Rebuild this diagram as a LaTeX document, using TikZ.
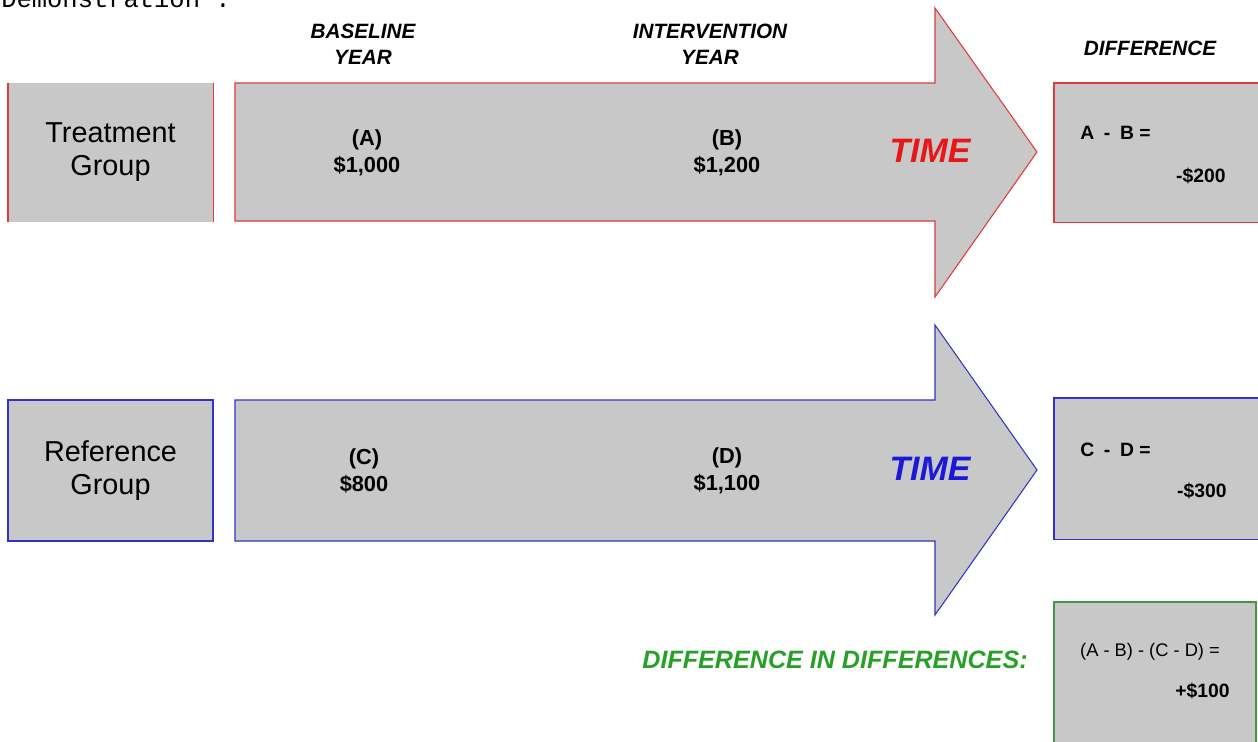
\documentclass[tikz,border=0pt]{standalone}
\usepackage{fontspec}
\setmainfont{Liberation Sans}
\newfontfamily\democode{Liberation Mono}
\definecolor{PanelGray}{RGB}{200, 200, 200}
\definecolor{TreatRed}{RGB}{222, 58, 58}
\definecolor{TimeRed}{RGB}{232, 22, 22}
\definecolor{RefBlue}{RGB}{50, 50, 195}
\definecolor{TimeBlue}{RGB}{25, 25, 215}
\definecolor{DidGreen}{RGB}{40, 160, 40}
\definecolor{DidLine}{RGB}{70, 150, 70}

\begin{document}
\begin{tikzpicture}[x=0.02cm, y=-0.02cm,
    panel/.style={fill=PanelGray, inner sep=0pt, minimum width=4.1cm, minimum height=2.78cm},
    grouplabel/.style={align=center, font=\fontsize{16.4}{18.7}\selectfont},
    colhead/.style={align=center, inner sep=0pt, font=\fontsize{11.8}{14.7}\selectfont\bfseries\itshape},
    amount/.style={align=center, inner sep=0pt, font=\fontsize{12.4}{15.3}\selectfont\bfseries},
    difftext/.style={inner sep=0pt, font=\fontsize{11}{13}\selectfont\bfseries},
    timelabel/.style={inner sep=0pt, font=\fontsize{19.3}{22}\selectfont\bfseries\itshape}]

    \useasboundingbox (0,0) rectangle (1258,741);
    \clip (0,0) rectangle (1258,741);

    % Title, cut off at the top
    \node[anchor=base west, inner sep=0pt, font=\democode\fontsize{14.5}{16}\selectfont] (demo) at (1,7) {Demonstration :};

    % Column headers
    \node[colhead] (basehead) at (363,44) {BASELINE\\YEAR};
    \node[colhead] (interhead) at (710,44) {INTERVENTION\\YEAR};
    \node[colhead] (diffhead) at (1150,48) {DIFFERENCE};

    % Treatment group row
    \node[panel, grouplabel] (treat) at (110.5,152.5) {Treatment\\Group};
    \draw[TreatRed, line width=1.2pt] (treat.north west) -- (treat.south west);
    \draw[TreatRed, line width=0.6pt] (treat.north east) -- (treat.south east);

    \filldraw[fill=PanelGray, draw=TreatRed, line width=0.6pt]
        (235,83) -- (935,83) -- (935,8) -- (1037,152) -- (935,297) -- (935,221) -- (235,221) -- cycle;
    \node[amount] (valA) at (367,153) {(A)\\\$1,000};
    \node[amount] (valB) at (727,153) {(B)\\\$1,200};
    \node[timelabel, TimeRed] (time1) at (930,151) {TIME};

    \node[panel, minimum width=4.2cm, anchor=north west] (diff1) at (1054,83) {};
    \draw[TreatRed, line width=0.6pt] (diff1.south east) -- (diff1.south west) -- (diff1.north west) -- (diff1.north east);
    \node[difftext, anchor=west] (ab) at (1080,133) {A\enspace-\enspace B =};
    \node[difftext, anchor=east] (abval) at (1226,176) {-\$200};

    % Reference group row
    \node[panel, grouplabel, minimum height=2.82cm, draw=RefBlue, line width=0.8pt] (ref) at (110.5,470.5) {Reference\\Group};

    \filldraw[fill=PanelGray, draw=RefBlue, line width=0.6pt]
        (235,400) -- (935,400) -- (935,325) -- (1037,470) -- (935,615) -- (935,541) -- (235,541) -- cycle;
    \node[amount] (valC) at (364,471) {(C)\\\$800};
    \node[amount] (valD) at (727,471) {(D)\\\$1,100};
    \node[timelabel, TimeBlue] (time2) at (930,469) {TIME};

    \node[panel, minimum width=4.2cm, minimum height=2.82cm, anchor=north west] (diff2) at (1054,398) {};
    \draw[RefBlue, line width=0.8pt] (diff2.south east) -- (diff2.south west) -- (diff2.north west) -- (diff2.north east);
    \node[difftext, anchor=west] (cd) at (1080,450) {C\enspace-\enspace D =};
    \node[difftext, anchor=east] (cdval) at (1227,491) {-\$300};

    % Difference in differences
    \node[inner sep=0pt, anchor=east, text=DidGreen, font=\fontsize{14.3}{16}\selectfont\bfseries\itshape] (didlabel) at (1028,660) {DIFFERENCE IN DIFFERENCES:};
    \node[panel, minimum width=4.04cm, minimum height=3.2cm, anchor=north west, draw=DidLine, line width=0.9pt] (did) at (1053,601) {};
    \node[inner sep=0pt, font=\fontsize{10.4}{12}\selectfont] (didform) at (1150,652) {(A - B) - (C - D) =};
    \node[difftext, anchor=east] (didval) at (1230,691) {+\$100};
\end{tikzpicture}
\end{document}
